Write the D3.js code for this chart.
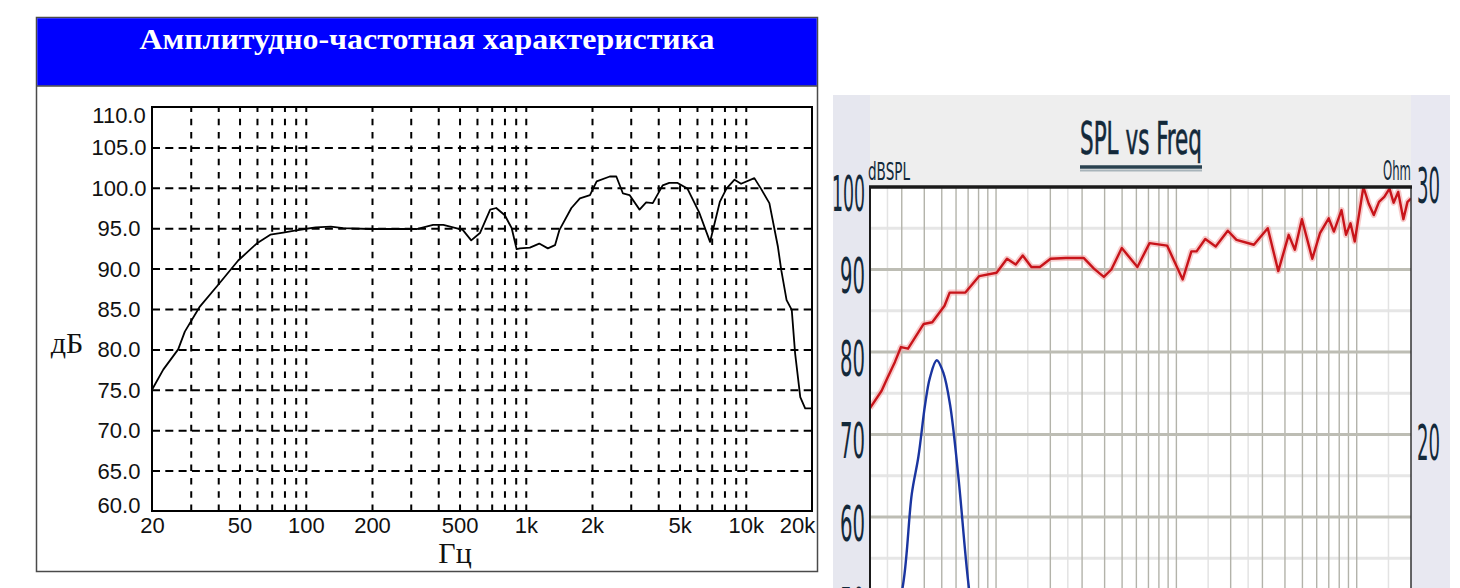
<!DOCTYPE html>
<html><head><meta charset="utf-8">
<script src="https://cdn.jsdelivr.net/npm/d3@7"></script>
<style>html,body{margin:0;padding:0;background:#fff;} svg{display:block;}</style>
</head><body>
<svg id="c" width="1460" height="588"></svg>
<script>
// ---------- LEFT CHART DATA ----------
const leftTitle = "Амплитудно-частотная характеристика";
const leftYLabel = "дБ";
const leftXLabel = "Гц";
const leftFreq = [20,22.5,26.3,28.2,33,40,49.3,59.8,69,79,89,99,111,130,148,195,319,379,422,517,565,619,689,734,803,863,909,941,1044,1151,1260,1358,1423,1612,1762,1958,2100,2409,2580,2765,2963,3290,3525,3778,4190,4490,4900,5430,6130,6880,7630,8170,8890,9520,10940,11720,12800,14000,14500,15330,16180,16760,17690,18620,20000];
const leftDb   = [75.0,77.5,80.0,82.2,85.3,88.0,91.0,93.1,94.2,94.45,94.7,94.9,95.1,95.2,95.0,94.9,94.9,95.4,95.4,94.8,93.5,94.4,97.3,97.5,96.6,95.0,92.4,92.5,92.6,93.1,92.5,92.9,94.8,97.5,98.7,99.1,100.8,101.4,101.4,99.3,99.1,97.3,98.2,98.1,100.3,100.6,100.6,99.9,97.0,93.3,98.3,99.9,101.0,100.5,101.2,99.9,98.1,92.7,89.8,86.1,84.9,79.5,74.1,72.7,72.7];
const leftYTicks = [60,65,70,75,80,85,90,95,100,105,110];
const leftYGrid = [65,70,75,80,85,90,95,100,105];
const leftXTicks = [20,50,100,200,500,1000,2000,5000,10000,20000];
const leftXTickLabels = ["20","50","100","200","500","1k","2k","5k","10k","20k"];
const leftXGrid = [30,40,50,60,70,80,90,100,200,300,400,500,600,700,800,900,1000,2000,3000,4000,5000,6000,7000,8000,9000,10000];

// ---------- RIGHT CHART DATA ----------
const rightTitle = "SPL vs Freq";
const rightYUnit = "dBSPL";
const rightOhmUnit = "Ohm";
const rightFreq = [20,23.2,24.9,27.5,29.7,32.5,39.7,44.3,51.8,55.3,67.6,80.7,100.7,115,128.6,140.6,157,175,200.5,244,306,349,396,436,498,608,710,888,1084,1211,1294,1446,1652,1928,2154,2690,3212,3673,4195,4540,4966,5672,6256,6994,7472,8236,8722,9238,9748,10890,11642,12438,13290,14222,15196,16016,16984,18150,19126,20000];
const rightSpl  = [73.2,75.3,76.8,78.8,80.6,80.4,83.4,83.6,85.6,87.2,87.2,89.2,89.6,91.3,90.6,91.7,90.3,90.3,91.3,91.4,91.4,90.1,89.1,90.0,92.6,90.3,93.2,92.9,88.8,92.2,92.2,93.7,92.8,94.7,93.6,93.0,95.0,89.8,94.2,92.4,96.1,91.3,94.4,96.2,94.6,97.2,94.2,95.6,93.4,100,98.0,96.6,98.2,98.8,99.8,98.1,99.4,96.1,98.2,98.6];
const impFreq = [20,25,30.6,34.1,37.1,40.4,43.0,46.9,51.0,55.6,61.8,70.2,80,100];
const impOhm  = [9.0,11.0,14.0,17.6,19.1,21.2,22.3,23.0,22.5,21.2,18.3,14.0,11.0,8.5];
const rightYTicks = [100,90,80,70,60,50];
const rightYMajorGrid = [90,80,70,60,50];
const rightYMinorGrid = [95,85,75,65,55];
const rightOhmTicks = [30,20];
const rightXGrid = [30,40,50,60,70,80,90,100,200,300,400,500,600,700,800,900,1000,2000,3000,4000,5000,6000,7000,8000,9000,10000];
const rightXMinorGrid = [25,150,250,1500,2500,15000];

const svg = d3.select("#c");

// ================= LEFT PANEL =================
const L = {x0:152, x1:812, y0:107, y1:511};
svg.append("rect").attr("x",36.5).attr("y",17.5).attr("width",781).attr("height",554)
  .attr("fill","#fff").attr("stroke","#4a4a4a").attr("stroke-width",1.5);
svg.append("rect").attr("x",37.25).attr("y",18.25).attr("width",779.5).attr("height",67.5).attr("fill","#0000ff");
svg.append("line").attr("x1",37).attr("x2",817).attr("y1",86).attr("y2",86).attr("stroke","#4a4a4a").attr("stroke-width",1.5);
svg.append("text").attr("x",427).attr("y",49).attr("text-anchor","middle")
  .attr("font-family","'Liberation Serif','Times New Roman',serif").attr("font-weight","bold")
  .attr("font-size",29).attr("fill","#fff").attr("textLength",575).attr("lengthAdjust","spacingAndGlyphs")
  .text(leftTitle);

const xL = d3.scaleLog().domain([20,20000]).range([L.x0,L.x1]);
const yL = d3.scaleLinear().domain([60,110]).range([L.y1,L.y0]);

// grid via axes
const gxg = svg.append("g").attr("transform",`translate(0,${L.y1})`)
  .call(d3.axisBottom(xL).tickValues(leftXGrid).tickSize(-(L.y1-L.y0)).tickFormat(""));
gxg.select(".domain").remove();
gxg.selectAll("line").attr("stroke","#000").attr("stroke-width",2).attr("stroke-dasharray","6.5,6.8");
const gyg = svg.append("g").attr("transform",`translate(${L.x0},0)`)
  .call(d3.axisLeft(yL).tickValues(leftYGrid).tickSize(-(L.x1-L.x0)).tickFormat(""));
gyg.select(".domain").remove();
gyg.selectAll("line").attr("stroke","#000").attr("stroke-width",2).attr("stroke-dasharray","8,5.3");

// frame
svg.append("rect").attr("x",L.x0).attr("y",L.y0).attr("width",L.x1-L.x0).attr("height",L.y1-L.y0)
  .attr("fill","none").attr("stroke","#000").attr("stroke-width",2);

// y labels
const yla = svg.append("g").attr("transform",`translate(${L.x0},0)`)
  .call(d3.axisLeft(yL).tickValues(leftYTicks).tickSize(0).tickFormat(d3.format(".1f")));
yla.select(".domain").remove();
yla.selectAll("text").attr("font-family","'Liberation Sans',Arial,sans-serif").attr("font-size",22)
  .attr("fill","#111").attr("text-anchor","middle").attr("x",-33).attr("dy",null)
  .attr("dominant-baseline","central")
  .attr("y", d => Math.min(Math.max(yL(d),115),505) - yL(d));

// x labels
const xla = svg.append("g").attr("transform",`translate(0,${L.y1})`)
  .call(d3.axisBottom(xL).tickValues(leftXTicks).tickSize(0).tickFormat((d,i)=>leftXTickLabels[i]));
xla.select(".domain").remove();
xla.selectAll("text").attr("font-family","'Liberation Sans',Arial,sans-serif").attr("font-size",22)
  .attr("fill","#111").attr("y",6).attr("dy","0.71em")
  .attr("x", d => Math.min(xL(d),797) - xL(d));

svg.append("text").attr("x",67).attr("y",353).attr("text-anchor","middle")
  .attr("font-family","'Liberation Serif','Times New Roman',serif").attr("font-size",30).attr("fill","#111").text(leftYLabel);
svg.append("text").attr("x",455).attr("y",563).attr("text-anchor","middle")
  .attr("font-family","'Liberation Serif','Times New Roman',serif").attr("font-size",30).attr("fill","#111").text(leftXLabel);

// curve
const leftPts = leftFreq.map((f,i)=>[f,leftDb[i]]);
svg.append("path").datum(leftPts)
  .attr("d", d3.line().x(d=>xL(d[0])).y(d=>yL(d[1])))
  .attr("fill","none").attr("stroke","#000").attr("stroke-width",1.8).attr("stroke-linejoin","round");

// ================= RIGHT PANEL =================
const R = {x0:870, x1:1411, y0:187};
const yR = d3.scaleLinear().domain([40,100]).range([187+60*8.25,187]);
const xR = d3.scaleLog().domain([20,20000]).range([R.x0,R.x1]);
const yO = d3.scaleLinear().domain([20,30]).range([yR(70),yR(100)]);
const bottom = 600;

svg.append("rect").attr("x",833).attr("y",95).attr("width",617).attr("height",520).attr("fill","#eeeeee");
svg.append("rect").attr("x",833).attr("y",95).attr("width",37).attr("height",520).attr("fill","#e6e7ef");
svg.append("rect").attr("x",1411).attr("y",95).attr("width",39).attr("height",520).attr("fill","#e8e8f1");
svg.append("rect").attr("x",R.x0).attr("y",R.y0).attr("width",R.x1-R.x0).attr("height",bottom-R.y0).attr("fill","#fff");

const clip = svg.append("clipPath").attr("id","rclip").append("rect")
  .attr("x",R.x0).attr("y",R.y0).attr("width",R.x1-R.x0).attr("height",bottom-R.y0);

// minor grid
const gm = svg.append("g").attr("clip-path","url(#rclip)");
gm.selectAll(".hmin").data(rightYMinorGrid).join("line")
  .attr("x1",R.x0).attr("x2",R.x1).attr("y1",d=>yR(d)).attr("y2",d=>yR(d))
  .attr("stroke","#e6e6e6").attr("stroke-width",3);
gm.selectAll(".vmin").data(rightXMinorGrid).join("line").attr("class","vmin")
  .attr("x1",d=>xR(d)).attr("x2",d=>xR(d)).attr("y1",R.y0).attr("y2",bottom)
  .attr("stroke","#e3e3e3").attr("stroke-width",1.5);
gm.selectAll(".vmaj").data(rightXGrid).join("line").attr("class","vmaj")
  .attr("x1",d=>xR(d)).attr("x2",d=>xR(d)).attr("y1",R.y0).attr("y2",bottom)
  .attr("stroke","#b3b3aa").attr("stroke-width",1.4);
gm.selectAll(".hmaj").data(rightYMajorGrid).join("line").attr("class","hmaj")
  .attr("x1",R.x0).attr("x2",R.x1).attr("y1",d=>yR(d)).attr("y2",d=>yR(d))
  .attr("stroke","#bdbdb4").attr("stroke-width",3);

// curves
const rightPts = rightFreq.map((f,i)=>[f,rightSpl[i]]);
const impPts = impFreq.map((f,i)=>[f,impOhm[i]]);
const gc = svg.append("g").attr("clip-path","url(#rclip)");
const redLine = d3.line().x(d=>xR(d[0])).y(d=>yR(d[1]));
gc.append("path").datum(rightPts).attr("d",redLine).attr("fill","none")
  .attr("stroke","#f0a0a0").attr("stroke-width",6).attr("opacity",0.55).attr("stroke-linejoin","round");
gc.append("path").datum(rightPts).attr("d",redLine).attr("fill","none")
  .attr("stroke","#c8141a").attr("stroke-width",2.4).attr("stroke-linejoin","round");
gc.append("path").datum(impPts)
  .attr("d",d3.line().x(d=>xR(d[0])).y(d=>yO(d[1])).curve(d3.curveCatmullRom))
  .attr("fill","none").attr("stroke","#1a35a0").attr("stroke-width",2.4);

// frame
svg.append("line").attr("x1",R.x0).attr("x2",R.x0).attr("y1",R.y0).attr("y2",bottom).attr("stroke","#1a1a1a").attr("stroke-width",2);
svg.append("line").attr("x1",R.x1).attr("x2",R.x1).attr("y1",R.y0).attr("y2",bottom).attr("stroke","#333").attr("stroke-width",1.5);
svg.append("line").attr("x1",R.x0-1).attr("x2",R.x1+1).attr("y1",R.y0).attr("y2",R.y0).attr("stroke","#1a1a1a").attr("stroke-width",3.5);

const narrow = "'Liberation Sans Narrow','Arial Narrow','DejaVu Sans Condensed','Liberation Sans',sans-serif";
const tcol = "#13293a";

// title
svg.append("text").attr("x",1141).attr("y",154).attr("text-anchor","middle")
  .attr("font-family",narrow).attr("font-size",44).attr("fill",tcol).attr("stroke",tcol).attr("stroke-width",0.6)
  .attr("textLength",122).attr("lengthAdjust","spacingAndGlyphs").text(rightTitle);
svg.append("line").attr("x1",1080).attr("x2",1202).attr("y1",170.5).attr("y2",170.5).attr("stroke","#a8b4ba").attr("stroke-width",2);
svg.append("line").attr("x1",1080).attr("x2",1202).attr("y1",167).attr("y2",167).attr("stroke","#2a4250").attr("stroke-width",3.5);

svg.append("text").attr("x",868).attr("y",180).attr("font-family",narrow).attr("font-size",25).attr("fill",tcol)
  .attr("textLength",42).attr("lengthAdjust","spacingAndGlyphs").text(rightYUnit);
svg.append("text").attr("x",1411).attr("y",180).attr("text-anchor","end").attr("font-family",narrow).attr("font-size",27).attr("fill",tcol)
  .attr("textLength",28).attr("lengthAdjust","spacingAndGlyphs").text(rightOhmUnit);

// left dB tick labels
const ryl = svg.append("g").attr("transform",`translate(${R.x0},0)`)
  .call(d3.axisLeft(yR).tickValues(rightYTicks).tickSize(0).tickFormat(d3.format("d")));
ryl.select(".domain").remove();
ryl.selectAll("text").attr("font-family",narrow).attr("font-size",50).attr("fill",tcol)
  .attr("x",-5).attr("dy",null).attr("dominant-baseline","central").attr("y",6)
  .attr("textLength",d=>String(d).length*11+ (String(d).length>2?0:3)).attr("lengthAdjust","spacingAndGlyphs");

// right ohm tick labels
const ryr = svg.append("g").attr("transform",`translate(${R.x1},0)`)
  .call(d3.axisRight(yO).tickValues(rightOhmTicks).tickSize(0).tickFormat(d3.format("d")));
ryr.select(".domain").remove();
ryr.selectAll("text").attr("font-family",narrow).attr("font-size",50).attr("fill",tcol)
  .attr("x",6).attr("dy",null).attr("dominant-baseline","central").attr("y",d=>d===30?-2:8)
  .attr("textLength",23).attr("lengthAdjust","spacingAndGlyphs");
</script>
</body></html>
